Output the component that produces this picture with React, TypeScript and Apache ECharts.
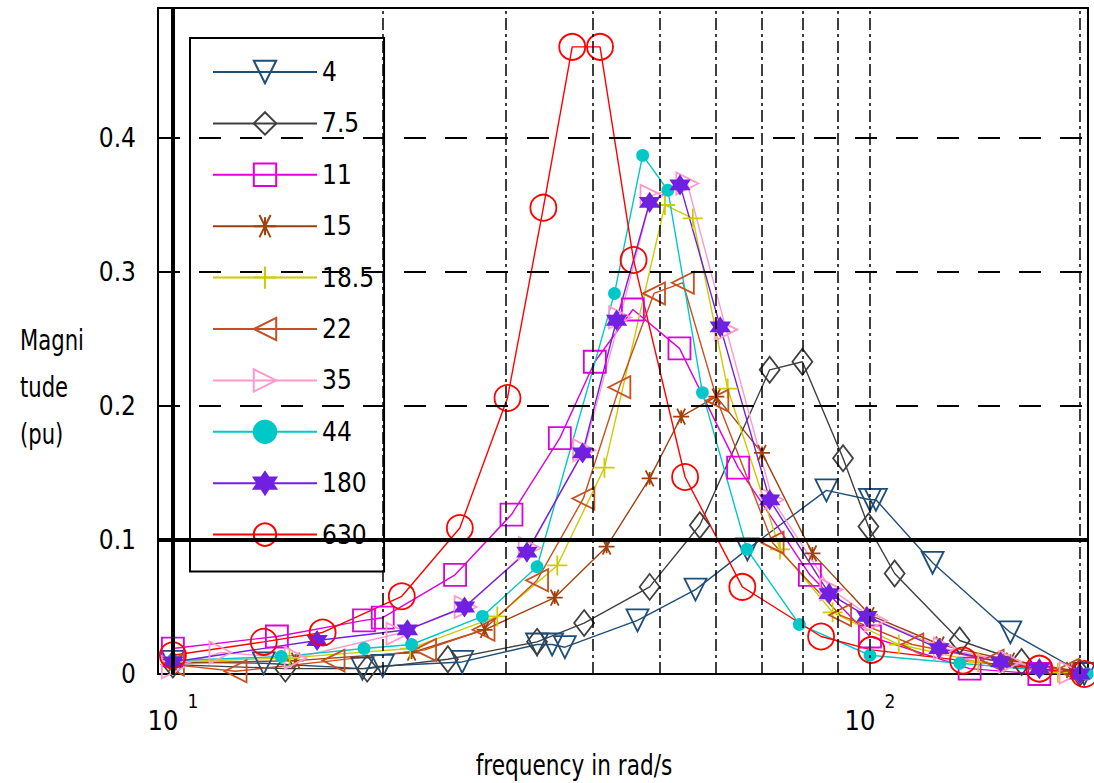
import React, { useEffect, useRef } from 'react';
import * as echarts from 'echarts';

const FONT = "'Liberation Sans Narrow', 'DejaVu Sans Condensed', 'Arial Narrow', sans-serif";

// Series names (legend order)
const seriesNames = ['4', '7.5', '11', '15', '18.5', '22', '35', '44', '180', '630'];

// [frequency rad/s, magnitude pu]
const s4 = [[10, 0.009], [13.5, 0.008], [18.7, 0.004], [20, 0.006], [26, 0.009], [33.3, 0.022], [35, 0.022], [36.5, 0.020], [46.4, 0.040], [56.2, 0.063], [66.7, 0.093], [86.6, 0.137], [100, 0.130], [102, 0.130], [123, 0.083], [159, 0.031], [203, 0.0]];
const s75 = [[10, 0.007], [14.5, 0.004], [19, 0.004], [24.8, 0.011], [33.3, 0.024], [38.9, 0.038], [48.3, 0.065], [57, 0.111], [71.8, 0.227], [80, 0.233], [91.5, 0.161], [99.5, 0.110], [108.5, 0.075], [134.5, 0.025], [165, 0.009], [200, 0.001]];
const s11 = [[10, 0.019], [14.1, 0.028], [18.8, 0.040], [20, 0.042], [25.4, 0.074], [30.6, 0.119], [35.9, 0.176], [40.3, 0.233], [45.7, 0.272], [53.3, 0.243], [64.7, 0.154], [82, 0.074], [100, 0.028], [139, 0.004], [175, 0.0]];
const s15 = [[10, 0.008], [15, 0.010], [22, 0.016], [28, 0.033], [35.3, 0.057], [41.9, 0.095], [48.3, 0.146], [53.6, 0.192], [60.2, 0.207], [70, 0.165], [82.7, 0.090], [100, 0.044], [126, 0.022], [159, 0.010], [194, 0.003]];
const s185 = [[10, 0.009], [14.7, 0.012], [21.9, 0.019], [29.2, 0.043], [35.6, 0.081], [41.6, 0.154], [50.8, 0.350], [55.7, 0.340], [62.5, 0.213], [74.3, 0.093], [88.4, 0.046], [110, 0.022], [143, 0.009], [186, 0.001]];
const s22 = [[10, 0.007], [12.3, 0.002], [17, 0.010], [23, 0.018], [27.9, 0.033], [33.3, 0.070], [38.8, 0.131], [43.7, 0.214], [49, 0.284], [53.9, 0.292], [60.4, 0.204], [72.5, 0.098], [90.6, 0.044], [115, 0.022], [150, 0.010], [192, 0.003]];
const s35 = [[10, 0.005], [11.7, 0.016], [15, 0.012], [21, 0.030], [26.3, 0.050], [32.5, 0.094], [38.9, 0.167], [43.8, 0.266], [48.6, 0.357], [54.7, 0.366], [62.2, 0.257], [72.5, 0.130], [88, 0.063], [102, 0.040], [128, 0.019], [159, 0.009], [194, 0.001]];
const s44 = [[10, 0.010], [14.3, 0.013], [18.8, 0.019], [22, 0.022], [27.8, 0.043], [33.3, 0.080], [43, 0.284], [47.2, 0.387], [51.3, 0.361], [57.5, 0.210], [66.6, 0.093], [79.2, 0.037], [100, 0.014], [134.6, 0.008], [175, 0.003], [205, 0.0]];
const s180 = [[10, 0.009], [16.1, 0.025], [21.7, 0.033], [26.2, 0.050], [32.2, 0.091], [38.7, 0.165], [43.3, 0.264], [48.3, 0.352], [53.4, 0.365], [61, 0.259], [71.8, 0.130], [87.4, 0.060], [99, 0.043], [125.6, 0.019], [154, 0.009], [175, 0.004], [200, 0.0]];
const s630 = [[10, 0.014], [13.5, 0.024], [16.4, 0.031], [21.3, 0.058], [25.8, 0.109], [30.2, 0.206], [34, 0.348], [37.4, 0.468], [41, 0.468], [45.8, 0.309], [54.3, 0.147], [65.6, 0.065], [85.1, 0.028], [100.5, 0.018], [136, 0.010], [175, 0.004], [203, 0.0]];

// grid lines
const verticalGrid = [20, 30, 40, 50, 60, 70, 80, 90, 100, 200];
const dashedLevels = [0.2, 0.3, 0.4];

const PLUS = 'path://M10,0L10,20M0,10L20,10';
const ASTER = 'path://M0,10L20,10M5,1.3L15,18.7M15,1.3L5,18.7M10,3L10,17';
const STAR = 'path://M10,0L12.9,5L18.7,5L15.8,10L18.7,15L12.9,15L10,20L7.1,15L1.3,15L4.2,10L1.3,5L7.1,5Z';

type Def = { name: string; data: number[][]; color: string; symbol: string; size: number | number[]; rotate?: number; filled?: boolean };

const defs: Def[] = [
  { name: '4', data: s4, color: '#1F4E79', symbol: 'triangle', rotate: 180, size: 22 },
  { name: '7.5', data: s75, color: '#404040', symbol: 'diamond', size: [20, 26] },
  { name: '11', data: s11, color: '#DD00DD', symbol: 'rect', size: 22 },
  { name: '15', data: s15, color: '#A0410D', symbol: ASTER, size: 16 },
  { name: '18.5', data: s185, color: '#CCCC00', symbol: PLUS, size: 20 },
  { name: '22', data: s22, color: '#C8501E', symbol: 'triangle', rotate: 90, size: 22 },
  { name: '35', data: s35, color: '#FF99CC', symbol: 'triangle', rotate: -90, size: 22 },
  { name: '44', data: s44, color: '#00C8C8', symbol: 'circle', size: 11, filled: true },
  { name: '180', data: s180, color: '#7020E0', symbol: STAR, size: 18, filled: true },
  { name: '630', data: s630, color: '#FF0000', symbol: 'circle', size: 26 },
];

export default function App() {
  const ref = useRef<HTMLDivElement>(null);
  useEffect(() => {
    document.body.style.margin = '0';
    const chart = echarts.init(ref.current!, undefined, { renderer: 'svg' });
    const dataSeries = defs.map((d) => ({
      type: 'line',
      name: d.name,
      data: d.data,
      z: 3,
      symbol: d.symbol,
      symbolSize: d.size,
      symbolRotate: d.rotate || 0,
      showAllSymbol: true,
      lineStyle: { color: d.color, width: 1.4 },
      itemStyle: {
        color: d.filled ? d.color : 'rgba(255,255,255,0)',
        borderColor: d.color,
        borderWidth: 1.8,
      },
      emphasis: { disabled: true },
    }));
    const gridSeries = {
      type: 'line',
      name: '__grid',
      data: [[10, 0.1]],
      showSymbol: false,
      silent: true,
      z: 1,
      lineStyle: { width: 0 },
      markLine: {
        silent: true,
        symbol: ['none', 'none'],
        label: { show: false },
        animation: false,
        data: [
          ...verticalGrid.map((v) => ({ xAxis: v, lineStyle: { color: '#000', width: 1.5, type: [12, 4, 3, 4] } })),
          ...dashedLevels.map((v) => ({ yAxis: v, lineStyle: { color: '#000', width: 2, type: [22, 19] } })),
          { xAxis: 10, lineStyle: { color: '#000', width: 4, type: 'solid' } },
          { yAxis: 0.1, lineStyle: { color: '#000', width: 4, type: 'solid' } },
        ],
      },
    };
    chart.setOption({
      animation: false,
      backgroundColor: '#fff',
      grid: { left: 158, top: 8, width: 930, height: 666, show: true, borderColor: '#000', borderWidth: 2, backgroundColor: 'transparent' },
      xAxis: {
        type: 'log',
        logBase: 10,
        min: 9.52,
        max: 205.5,
        axisLine: { show: false },
        axisTick: { show: false },
        splitLine: { show: false },
        minorTick: { show: false },
        axisLabel: {
          showMinLabel: false,
          showMaxLabel: false,
          margin: 17,
          formatter: (v: number) => {
            const l = Math.log10(v);
            const e = Math.round(l);
            if (Math.abs(l - e) > 1e-6) return '';
            return '{b|10}{s|' + e + '}';
          },
          rich: {
            b: { fontFamily: FONT, fontSize: 27, lineHeight: 43, color: '#000', verticalAlign: 'bottom' },
            s: { fontFamily: FONT, fontSize: 19, lineHeight: 19, color: '#000', verticalAlign: 'top', padding: [0, 0, 0, 9] },
          },
        },
      },
      yAxis: {
        type: 'value',
        min: 0,
        max: 0.497,
        interval: 0.1,
        axisLine: { show: false },
        axisTick: { show: true, inside: true, length: 8, lineStyle: { color: '#000', width: 2 } },
        splitLine: { show: false },
        axisLabel: {
          showMaxLabel: false,
          margin: 22,
          fontFamily: FONT,
          fontSize: 26,
          color: '#000',
        },
      },
      legend: {
        data: seriesNames,
        orient: 'vertical',
        left: 190,
        top: 38,
        itemWidth: 104,
        itemHeight: 28,
        itemGap: 23.4,
        padding: [20, 10, 23, 22],
        backgroundColor: '#fff',
        borderColor: '#000',
        borderWidth: 2,
        borderRadius: 0,
        selectedMode: false,
        textStyle: { fontFamily: FONT, fontSize: 26, lineHeight: 28, color: '#000' },
      },
      graphic: [
        {
          type: 'text',
          x: 20,
          y: 317,
          scaleX: 0.84,
          style: { text: 'Magni\ntude\n(pu)', fontFamily: FONT, fontSize: 28, lineHeight: 47, fill: '#000', align: 'left', verticalAlign: 'top' },
        },
        {
          type: 'text',
          x: 574,
          y: 765,
          scaleX: 0.86,
          style: { text: 'frequency in rad/s', fontFamily: FONT, fontSize: 28, fill: '#000', align: 'center', verticalAlign: 'middle' },
        },
      ],
      series: [gridSeries, ...dataSeries],
    });
    return () => chart.dispose();
  }, []);
  return <div ref={ref} style={{ position: 'absolute', left: 0, top: 0, width: 1094, height: 783 }} />;
}
